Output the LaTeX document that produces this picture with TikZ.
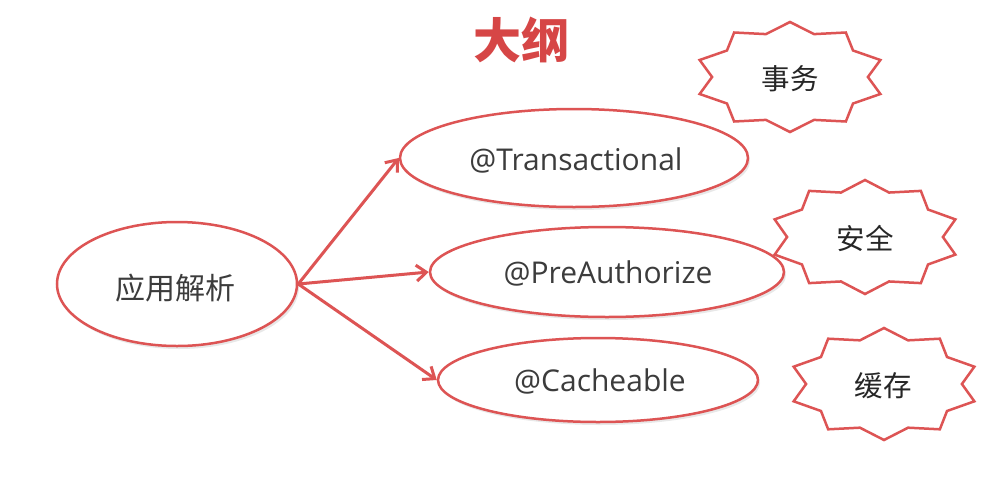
\documentclass[tikz,border=0pt]{standalone}
\usepackage{fontspec}
\setmainfont{Noto Sans CJK SC}
\newfontfamily\latfont{Open Sans}
\usetikzlibrary{shapes.geometric,arrows.meta,shadows}
\definecolor{bred}{RGB}{221,84,84}
\definecolor{tred}{RGB}{214,70,70}
\definecolor{tgray}{RGB}{60,60,60}
\newcommand\burstshape[4]{%
  \draw[burst] plot[samples at={0,...,19}] ({#1+ifthenelse(mod(\x,2)==0,1,0.82)*#3*cos(90+18*\x)},{#2-ifthenelse(mod(\x,2)==0,1,0.82)*#4*sin(90+18*\x)}) -- cycle;}
\tikzset{
  oval/.style={ellipse, draw=bred, line width=2.5pt, fill=white, inner sep=0pt,
    drop shadow={opacity=0.18, shadow xshift=2pt, shadow yshift=-3pt}},
  burst/.style={draw=bred, line width=2.5pt, line join=miter, fill=white},
  conn/.style={draw=bred, line width=3pt, -{Straight Barb[length=10pt,width=16pt]}},
  lat/.style={font=\latfont\fontsize{30}{34}\selectfont, text=tgray},
  cjk/.style={font=\fontsize{30}{34}\selectfont, text=tgray},
  starlbl/.style={font=\fontsize{28.5}{32}\selectfont, text=black!85}
}
\begin{document}
\begin{tikzpicture}[x=1pt,y=-1pt]
\path[use as bounding box, fill=white] (0,0) rectangle (996,485);
% title
\node[font=\fontsize{48}{52}\selectfont\bfseries, text=tred] (title) at (521,40) {大纲};
% ellipses
\node[oval, minimum width=240pt, minimum height=124pt] (app) at (177,284) {};
\node[oval, minimum width=348pt, minimum height=98pt] (tx) at (574,158) {};
\node[oval, minimum width=354pt, minimum height=90pt] (pre) at (607,272) {};
\node[oval, minimum width=320pt, minimum height=84pt] (cache) at (598,380) {};
\node[cjk] (appt) at (175,288) {应用解析};
\node[lat] (txt) at (576,160) {@Transactional};
\node[lat] (pret) at (608,273) {@PreAuthorize};
\node[lat] (cachet) at (600,381) {@Cacheable};
% connectors
\draw[conn] (app.east) -- (tx.west);
\draw[conn] (app.east) -- (pre.west);
\draw[conn] (app.east) -- (cache.west);
% starbursts
\burstshape{790}{77}{95}{55}
\burstshape{865}{237}{95}{57}
\burstshape{884}{384}{95}{56}
\node[starlbl] (s1) at (790,79) {事务};
\node[starlbl] (s2) at (865,238) {安全};
\node[starlbl] (s3) at (883,386) {缓存};
\end{tikzpicture}
\end{document}
